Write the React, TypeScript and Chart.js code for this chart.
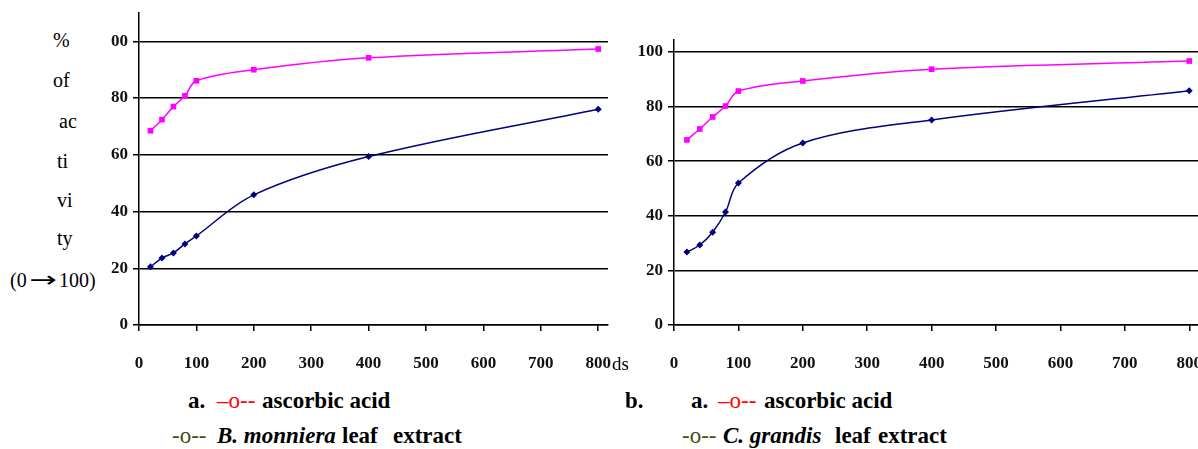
import React, { useEffect, useRef } from "react";
import { Chart, registerables } from "chart.js";

Chart.register(...registerables);

// ---- data ----
const concentrations = [20, 40, 60, 80, 100, 200, 400, 800];
const ascorbicA = [68.5, 72.4, 77, 80.8, 86.1, 90, 94.2, 97.3];
const monniera = [20.5, 23.6, 25.4, 28.6, 31.4, 45.9, 59.4, 76.1];
const ascorbicB = [67.8, 71.8, 76.2, 80.2, 85.7, 89.4, 93.7, 96.7];
const grandis = [26.7, 29.3, 34, 41.4, 52, 66.7, 75.1, 85.8];

const yTickValues = [0, 20, 40, 60, 80, 100];
const leftYTickLabels = ["0", "20", "40", "60", "80", "00"];
const rightYTickLabels = ["0", "20", "40", "60", "80", "100"];
const xTickValues = [0, 100, 200, 300, 400, 500, 600, 700, 800];
const xTickLabels = ["0", "100", "200", "300", "400", "500", "600", "700", "800"];

const yTitleLines = ["%", "of", "ac", "ti", "vi", "ty"];

const SERIF = "'Liberation Serif', serif";

type PanelProps = {
  ascorbic: number[];
  extract: number[];
  yLabels: string[];
  yMax: number;
  xMax: number;
  yAxisWidth: number;
  padTop: number;
  style: React.CSSProperties;
  width: number;
  height: number;
};

function Panel(props: PanelProps) {
  const ref = useRef<HTMLCanvasElement | null>(null);
  useEffect(() => {
    if (!ref.current) return;
    const pts = (ys: number[]) => concentrations.map((x, i) => ({ x, y: ys[i] }));
    const tickFont = { family: SERIF, size: 17, weight: "bold" };
    const chart = new Chart(ref.current, {
      type: "line",
      data: {
        datasets: [
          {
            label: "ascorbic acid",
            data: pts(props.ascorbic),
            borderColor: "#ff00ff",
            backgroundColor: "#ff00ff",
            borderWidth: 1.5,
            pointStyle: "rect",
            pointRadius: 4,
            pointBorderWidth: 0,
            tension: 0.35,
          },
          {
            label: "extract",
            data: pts(props.extract),
            borderColor: "#000080",
            backgroundColor: "#000080",
            borderWidth: 1.5,
            pointStyle: "rectRot",
            pointRadius: 3.5,
            pointBorderWidth: 0,
            tension: 0.35,
          },
        ],
      },
      options: {
        animation: false,
        responsive: false,
        maintainAspectRatio: false,
        layout: { padding: { top: props.padTop, left: 0, right: 0, bottom: 0 } },
        plugins: { legend: { display: false }, tooltip: { enabled: false } },
        scales: {
          x: {
            type: "linear",
            min: 0,
            max: props.xMax,
            afterBuildTicks: (scale: any) => {
              scale.ticks = xTickValues.map((v) => ({ value: v }));
            },
            afterFit: (scale: any) => {
              scale.height = 55;
              scale.paddingLeft = 0;
              scale.paddingRight = 0;
            },
            grid: {
              drawOnChartArea: false,
              drawTicks: true,
              tickLength: 6,
              color: "#000",
              lineWidth: 1.5,
            },
            border: { color: "#000", width: 1.5 },
            ticks: {
              autoSkip: false,
              maxRotation: 0,
              padding: 22,
              color: "#111",
              font: tickFont,
              callback: (v: any) => {
                const i = xTickValues.indexOf(Number(v));
                return i >= 0 ? xTickLabels[i] : "";
              },
            },
          },
          y: {
            type: "linear",
            min: 0,
            max: props.yMax,
            afterBuildTicks: (scale: any) => {
              scale.ticks = yTickValues.map((v) => ({ value: v }));
            },
            afterFit: (scale: any) => {
              scale.width = props.yAxisWidth;
              scale.paddingTop = 0;
              scale.paddingBottom = 0;
            },
            grid: {
              drawOnChartArea: true,
              drawTicks: true,
              tickLength: 6,
              color: "#000",
              lineWidth: 1.5,
            },
            border: { color: "#000", width: 1.5 },
            ticks: {
              autoSkip: false,
              padding: 5,
              color: "#111",
              font: tickFont,
              callback: (v: any) => {
                const i = yTickValues.indexOf(Number(v));
                return i >= 0 ? props.yLabels[i] : "";
              },
            },
          },
        },
      },
    } as any);
    return () => chart.destroy();
  }, []);
  return (
    <canvas
      ref={ref}
      width={props.width}
      height={props.height}
      style={{ position: "absolute", width: props.width, height: props.height, ...props.style }}
    />
  );
}

const textBase: React.CSSProperties = {
  position: "absolute",
  fontFamily: SERIF,
  lineHeight: "1",
  whiteSpace: "pre",
  color: "#000",
};

function T(p: { x: number; y: number; size: number; bold?: boolean; italic?: boolean; color?: string; children: React.ReactNode }) {
  return (
    <div
      style={{
        ...textBase,
        left: p.x,
        top: p.y,
        fontSize: p.size,
        fontWeight: p.bold ? "bold" : "normal",
        fontStyle: p.italic ? "italic" : "normal",
        color: p.color || "#000",
      }}
    >
      {p.children}
    </div>
  );
}

const yTitleX = [53, 53, 59, 57, 57, 57];
const yTitleTop = [30, 70, 111, 151, 190, 228];

export default function App() {
  const L1 = 389; // legend line 1 top
  const L2 = 424; // legend line 2 top
  const FS = 23;
  return (
    <div
      style={{
        position: "fixed",
        left: 0,
        top: 0,
        width: 1198,
        height: 449,
        overflow: "hidden",
        background: "#fff",
      }}
    >
      {yTitleLines.map((t, i) => (
        <T key={i} x={yTitleX[i]} y={yTitleTop[i]} size={20}>
          {t}
        </T>
      ))}
      <div style={{ ...textBase, left: 10, top: 269, fontSize: 20 }}>
        (0<span style={{ fontFamily: "'DejaVu Sans', sans-serif", fontSize: 22, display: "inline-block", transform: "scaleX(1.5)", margin: "0 7px" }}>{"\u2192"}</span>100)
      </div>
      <Panel
        ascorbic={ascorbicA}
        extract={monniera}
        yLabels={leftYTickLabels}
        yMax={110}
        xMax={817}
        yAxisWidth={49}
        padTop={13}
        width={522}
        height={380}
        style={{ left: 90, top: 0 }}
      />
      <Panel
        ascorbic={ascorbicB}
        extract={grandis}
        yLabels={rightYTickLabels}
        yMax={104.4}
        xMax={826}
        yAxisWidth={54}
        padTop={40}
        width={590}
        height={380}
        style={{ left: 620, top: 0 }}
      />
      <T x={612} y={354} size={19}>ds</T>

      <T x={188} y={L1} size={FS} bold>a.</T>
      <T x={217} y={L1} size={FS} color="#ff0000">{"\u2013o--"}</T>
      <T x={262} y={L1} size={FS} bold>ascorbic acid</T>
      <T x={172} y={L2} size={FS} color="#4b4b14">-o--</T>
      <T x={217} y={L2} size={FS} bold italic>B. monniera</T>
      <T x={342} y={L2} size={FS} bold>leaf</T>
      <T x={393} y={L2} size={FS} bold>extract</T>

      <T x={625} y={L1} size={FS} bold>b.</T>
      <T x={691} y={L1} size={FS} bold>a.</T>
      <T x={718} y={L1} size={FS} color="#ff0000">{"\u2013o--"}</T>
      <T x={764} y={L1} size={FS} bold>ascorbic acid</T>
      <T x={682} y={L2} size={FS} color="#4b4b14">-o--</T>
      <T x={723} y={L2} size={FS} bold italic>C. grandis</T>
      <T x={835} y={L2} size={FS} bold>leaf</T>
      <T x={878} y={L2} size={FS} bold>extract</T>
    </div>
  );
}
